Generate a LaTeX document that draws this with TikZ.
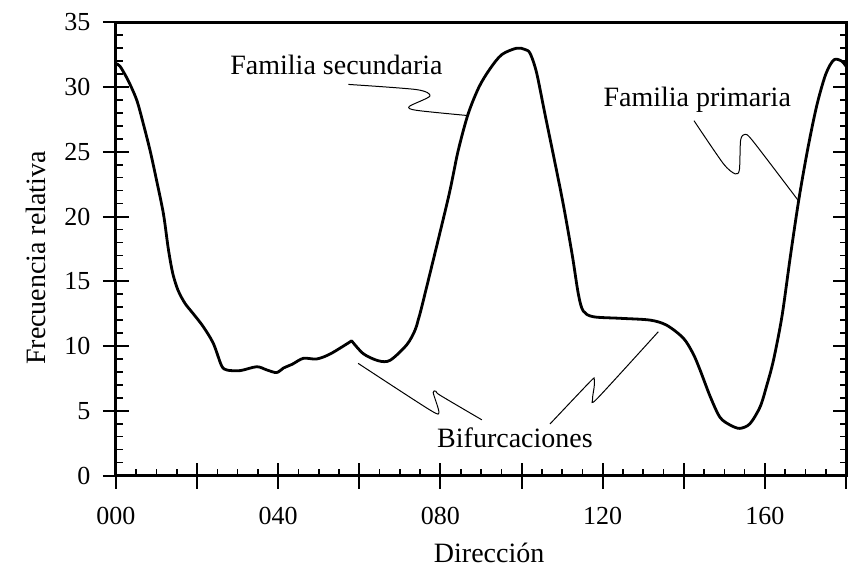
\documentclass[tikz,border=0pt]{standalone}
\usepackage{fontspec}
\setmainfont{Liberation Serif}
\usetikzlibrary{positioning}

\begin{document}
\begin{tikzpicture}[x=2.028pt, y=6.475pt,
    axisline/.style={line width=1.5pt},
    majortick/.style={line width=1pt},
    minortick/.style={line width=0.8pt},
    curveline/.style={line width=1.4pt, line join=round, line cap=round},
    leader/.style={line width=0.5pt},
    ticklabel/.style={inner sep=0pt, font=\fontsize{13}{15}\selectfont},
    caption/.style={inner sep=0pt, font=\fontsize{14}{16}\selectfont}]

    \useasboundingbox (-28.6,-7.07) rectangle (182.45,36.72);

    % Draw the frame
    \draw[axisline] (0,0) rectangle (180,35);

    % Ticks on the left and right sides
    \foreach \y in {0,5,...,35}
        \draw[majortick] (0,\y) ++(-6.5pt,0) -- ++(13pt,0);
    \foreach \y in {1,...,34}
        \draw[minortick] (0,\y) -- ++(3.5pt,0);
    \foreach \y in {5,10,...,30}
        \draw[majortick] (180,\y) -- ++(-6.5pt,0);
    \foreach \y in {1,...,34}
        \draw[minortick] (180,\y) -- ++(-3pt,0);

    % Ticks on the bottom
    \foreach \x in {0,20,...,180}
        \draw[majortick] (\x,0) ++(0,-6.5pt) -- ++(0,13pt);
    \foreach \x in {5,10,...,175}
        \draw[minortick] (\x,0) -- ++(0,3.5pt);

    % Tick labels
    \foreach \y in {0,5,...,35}
        \node[ticklabel, anchor=east] (ylab-\y) at (-6.2,\y) {\y};
    \foreach \x/\t in {0/000,40/040,80/080,120/120,160/160}
        \node[ticklabel, anchor=base] (xlab-\x) at (\x,-3.75) {\t};

    % Axis titles
    \node[caption, rotate=90, anchor=base] (ytitle) at (-17.5,16.8) {Frecuencia relativa};
    \node[caption, anchor=base] (xtitle) at (92,-6.7) {Dirección};

    % The frequency curve
    \draw[curveline] plot[smooth, tension=0.5] coordinates {
        (0,31.8) (1.0,31.6) (3.0,30.5) (5.1,29.0) (6.7,27.2) (8.4,25.1)
        (10.0,22.8) (11.7,20.2) (12.9,17.5) (14.0,15.6) (15.3,14.3)
        (17.0,13.3) (18.9,12.55) (21.5,11.5) (24.0,10.2) (26.0,8.5)
        (27.3,8.15) (30.6,8.1) (34.7,8.4) (37.2,8.15) (39.6,7.95) (41.3,8.3)
        (43.5,8.6) (46.2,9.05) (49.5,9.0) (52.9,9.4) (58.1,10.4)}
      -- plot[smooth, tension=0.5] coordinates {
        (58.1,10.4) (61.0,9.4) (64.7,8.86) (67.6,8.9) (71.7,10.1) (73.7,11.2)
        (74.5,12.0) (75.8,13.55) (81.9,21.4) (84.3,25.0) (86.8,27.9)
        (89.5,30.0) (92.2,31.4) (95.1,32.5) (98.8,33.0) (100.8,32.9)
        (102.1,32.6) (103.7,31.1) (105.7,28.0) (108.0,24.5) (110.3,20.9)
        (112.5,17.0) (114.0,14.0) (115.2,12.7) (117.7,12.26) (124.3,12.14)
        (131.7,12.0) (135.8,11.6) (139.9,10.6) (142.3,9.4) (144.0,8.15)
        (146.5,6.1) (148.9,4.5) (151.4,3.9) (153.8,3.64) (156.3,4.0)
        (158.8,5.3) (160.4,6.9) (162.1,8.9) (164.2,12.3) (166.3,17.0)
        (168.4,21.4) (170.6,25.3) (172.8,28.6) (175.0,31.0) (177.0,32.1)
        (178.9,32.0) (180,31.6)};

    % Labels
    \node[caption, anchor=base west] (secundaria) at (28.1,30.93) {Familia secundaria};
    \node[caption, anchor=base west] (primaria) at (120.1,28.53) {Familia primaria};
    \node[caption, anchor=base west] (bifurc) at (79.1,2.2) {Bifurcaciones};

    % Leader ends
    \coordinate (sec-a) at (57.3,30.2);
    \coordinate (sec-b) at (86.6,27.8);
    \coordinate (pri-a) at (142.5,27.4);
    \coordinate (pri-b) at (168.3,21.2);
    \coordinate (bifl-a) at (59.7,8.66);
    \coordinate (bifl-b) at (90.2,4.3);
    \coordinate (bifr-a) at (107.0,3.98);
    \coordinate (bifr-b) at (133.7,11.1);

    % Draw the squiggly leaders
    \draw[leader] plot[smooth, tension=0.45] coordinates {
        (sec-a) (74.1,29.8) (77.4,29.3) (72.3,28.5) (74.1,28.2) (sec-b)};
    \draw[leader] plot[smooth, tension=0.45] coordinates {
        (pri-a) (149.7,24.1) (152.6,23.3) (153.7,23.6) (154.0,25.9)
        (155.1,26.35) (157.1,25.8) (pri-b)};
    \draw[leader] plot[smooth, tension=0.45] coordinates {
        (bifl-a) (77.4,5.06) (79.6,4.9) (78.2,6.4) (78.9,6.5) (79.9,6.2) (bifl-b)};
    \draw[leader] plot[smooth, tension=0.45] coordinates {
        (bifr-a) (116.9,7.25) (117.9,7.45) (117.9,6.86) (117.5,5.9)
        (118.7,5.96) (bifr-b)};

\end{tikzpicture}
\end{document}
